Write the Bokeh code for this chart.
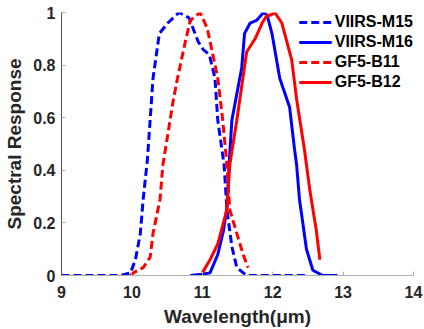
from bokeh.plotting import figure
from bokeh.models import FixedTicker, Range1d, Legend, LegendItem
from bokeh.embed import file_html
from bokeh.resources import INLINE

# ---- data ----
m15_x = [9.0, 9.5, 9.84, 9.98, 10.05, 10.12, 10.16, 10.22, 10.3, 10.39, 10.51, 10.67,
         10.81, 10.94, 11.01, 11.1, 11.18, 11.22, 11.31, 11.35, 11.42, 11.49, 11.63, 12.0, 12.48]
m15_y = [0.0, 0.0, 0.0, 0.01, 0.06, 0.16, 0.29, 0.44, 0.75, 0.92, 0.96, 1.0,
         0.98, 0.89, 0.86, 0.84, 0.75, 0.59, 0.42, 0.25, 0.11, 0.03, 0.0, 0.0, 0.0]

m16_x = [10.83, 11.0, 11.11, 11.22, 11.3, 11.35, 11.38, 11.42, 11.56, 11.6, 11.68, 11.77,
         11.87, 11.92, 11.99, 12.1, 12.24, 12.31, 12.34, 12.38, 12.48, 12.57, 12.71, 12.92]
m16_y = [0.0, 0.005, 0.01, 0.08, 0.17, 0.26, 0.42, 0.59, 0.79, 0.92, 0.96, 0.97,
         1.0, 0.99, 0.92, 0.75, 0.64, 0.48, 0.42, 0.29, 0.1, 0.02, 0.0, 0.0]

b11_x = [9.98, 10.02, 10.16, 10.26, 10.3, 10.4, 10.44, 10.59, 10.64, 10.76, 10.83, 10.97,
         11.07, 11.15, 11.22, 11.29, 11.35, 11.39, 11.49, 11.58, 11.65]
b11_y = [0.0, 0.01, 0.03, 0.07, 0.16, 0.29, 0.42, 0.67, 0.74, 0.89, 0.97, 1.0,
         0.94, 0.84, 0.75, 0.59, 0.42, 0.25, 0.16, 0.08, 0.03]

b12_x = [11.0, 11.11, 11.22, 11.3, 11.35, 11.39, 11.49, 11.63, 11.75, 11.85, 11.92, 11.97,
         12.03, 12.13, 12.27, 12.34, 12.45, 12.53, 12.62, 12.67]
b12_y = [0.01, 0.06, 0.12, 0.2, 0.25, 0.42, 0.59, 0.85, 0.9, 0.96, 0.99, 0.99,
         1.0, 0.96, 0.82, 0.67, 0.48, 0.32, 0.17, 0.06]

series_names = ["VIIRS-M15", "VIIRS-M16", "GF5-B11", "GF5-B12"]
x_ticks = [9, 10, 11, 12, 13, 14]
y_ticks = [0, 0.2, 0.4, 0.6, 0.8, 1]
y_tick_labels = ["0", "0.2", "0.4", "0.6", "0.8", "1"]
x_label = "Wavelength(μm)"
y_label = "Spectral Response"

FONT = "Liberation Sans"

p = figure(width=424, height=329, output_backend="svg", toolbar_location=None,
           x_range=Range1d(9, 14), y_range=Range1d(0, 1),
           min_border_left=61, min_border_right=11, min_border_top=12, min_border_bottom=54)
p.outline_line_color = None
p.xgrid.grid_line_color = None
p.ygrid.grid_line_color = None
p.background_fill_color = "white"

BLUE = "#0000FF"
RED = "#FF0000"
LW = 3
DASH = "8 4"

r1 = p.line(m15_x, m15_y, line_color=BLUE, line_width=LW, line_dash=DASH)
r2 = p.line(m16_x, m16_y, line_color=BLUE, line_width=LW)
r3 = p.line(b11_x, b11_y, line_color=RED, line_width=LW, line_dash=DASH)
r4 = p.line(b12_x, b12_y, line_color=RED, line_width=LW)

# axes
p.xaxis.ticker = FixedTicker(ticks=x_ticks)
p.yaxis.ticker = FixedTicker(ticks=y_ticks)
p.yaxis.major_label_overrides = {t: l for t, l in zip(y_ticks, y_tick_labels)}
p.xaxis.axis_label = x_label
p.yaxis.axis_label = y_label
for ax in (p.xaxis[0], p.yaxis[0]):
    ax.major_label_text_font = FONT
    ax.major_label_text_font_size = "16px"
    ax.major_label_text_font_style = "bold"
    ax.major_label_text_color = "#262626"
    ax.axis_label_text_font = FONT
    ax.axis_label_text_font_size = "19px"
    ax.axis_label_text_font_style = "bold"
    ax.axis_label_text_color = "#262626"
    ax.major_tick_in = 4
    ax.major_tick_out = 0
    ax.minor_tick_in = 0
    ax.minor_tick_out = 0
    ax.major_tick_line_color = "#b0b0b0"
p.xaxis.axis_line_color = "#b0b0b0"
p.yaxis.axis_line_color = "#505050"
p.xaxis.major_label_standoff = 10
p.xaxis.axis_label_standoff = 5
p.yaxis.major_label_standoff = 6
p.yaxis.axis_label_standoff = 5

legend = Legend(items=[LegendItem(label=n, renderers=[r]) for n, r in zip(series_names, [r1, r2, r3, r4])],
                location="top_right")
legend.margin = 0
legend.padding = 2
legend.spacing = 0
legend.label_height = 20
legend.glyph_height = 20
legend.glyph_width = 33
legend.label_standoff = 3
legend.label_text_font = FONT
legend.label_text_font_size = "16px"
legend.label_text_font_style = "bold"
legend.label_text_color = "#000000"
legend.background_fill_alpha = 0
legend.border_line_color = None
p.add_layout(legend)

open("out.html", "w").write(file_html(p, INLINE))
